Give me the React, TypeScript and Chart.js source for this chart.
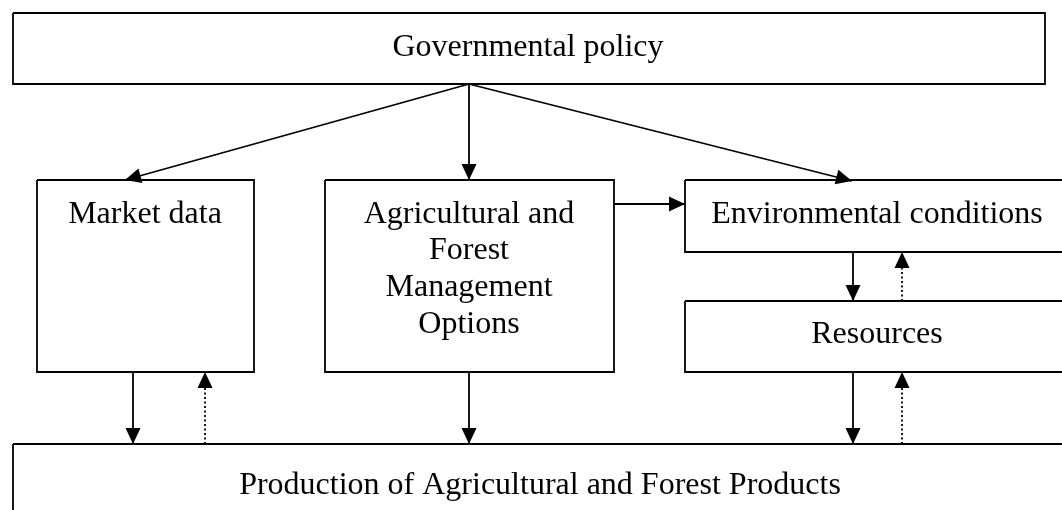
import React, { useEffect, useRef } from "react";
import { Chart, registerables } from "chart.js";

Chart.register(...registerables);

// Diagram coordinate space (units of the hidden linear scales)
const X_RANGE = [0, 1062];
const Y_RANGE = [0, 510];

// Boxes: [x1, y1, x2, y2]
const boxNames = ["gov", "market", "agri", "env", "res", "prod"];
const boxRects: number[][] = [
  [13, 13, 1045, 84],
  [37, 180, 254, 372],
  [325, 180, 614, 372],
  [685, 180, 1070, 252],
  [685, 301, 1070, 372],
  [13, 444, 1070, 530],
];

// Text lines: [text, centerX, baselineY]
const labelTexts = [
  "Governmental policy",
  "Market data",
  "Agricultural and",
  "Forest",
  "Management",
  "Options",
  "Environmental conditions",
  "Resources",
  "Production of Agricultural and Forest Products",
];
const labelX = [528, 145, 469, 469, 469, 469, 877, 877, 540];
const labelY = [56, 223, 223, 259, 296, 333, 223, 343, 494];

// Arrows: [fromX, fromY, toX, toY], solid or dotted
const arrowLines: number[][] = [
  [469, 84, 125, 180],
  [469, 84, 469, 180],
  [469, 84, 852, 181],
  [614, 204, 685, 204],
  [133, 372, 133, 444],
  [205, 444, 205, 372],
  [469, 372, 469, 444],
  [853, 252, 853, 301],
  [902, 301, 902, 252],
  [853, 372, 853, 444],
  [902, 444, 902, 372],
];
const arrowDotted = [false, false, false, false, false, true, false, false, true, false, true];

const FONT = '32px "Liberation Serif", "Times New Roman", serif';

const diagramPlugin = {
  id: "diagramPlugin",
  afterDatasetsDraw(chart: any) {
    const { ctx, scales } = chart;
    const sx = (v: number) => scales.x.getPixelForValue(v);
    const sy = (v: number) => scales.y.getPixelForValue(v);
    ctx.save();
    // arrowheads
    ctx.fillStyle = "#000";
    arrowLines.forEach((a) => {
      const x1 = sx(a[0]), y1 = sy(a[1]), x2 = sx(a[2]), y2 = sy(a[3]);
      const ang = Math.atan2(y2 - y1, x2 - x1);
      const len = 16, half = 7.5;
      const bx = x2 - len * Math.cos(ang), by = y2 - len * Math.sin(ang);
      ctx.beginPath();
      ctx.moveTo(x2, y2);
      ctx.lineTo(bx + half * Math.sin(ang), by - half * Math.cos(ang));
      ctx.lineTo(bx - half * Math.sin(ang), by + half * Math.cos(ang));
      ctx.closePath();
      ctx.fill();
    });
    // text
    ctx.font = FONT;
    ctx.textAlign = "center";
    ctx.textBaseline = "alphabetic";
    labelTexts.forEach((t, i) => {
      ctx.fillText(t, sx(labelX[i]), sy(labelY[i]));
    });
    ctx.restore();
  },
};

export default function App() {
  const ref = useRef<HTMLCanvasElement | null>(null);
  useEffect(() => {
    document.body.style.margin = "0";
    const canvas = ref.current;
    if (!canvas) return;
    const datasets: any[] = [];
    boxRects.forEach((r, i) => {
      datasets.push({
        label: boxNames[i],
        data: [
          { x: r[0], y: r[1] },
          { x: r[2], y: r[1] },
          { x: r[2], y: r[3] },
          { x: r[0], y: r[3] },
          { x: r[0], y: r[1] },
        ],
        showLine: true,
        borderColor: "#000",
        borderWidth: 1.8,
        pointRadius: 0,
        fill: false,
        tension: 0,
        clip: false,
        borderJoinStyle: "miter",
      });
    });
    arrowLines.forEach((a, i) => {
      datasets.push({
        label: "arrow" + i,
        data: [
          { x: a[0], y: a[1] },
          { x: a[2], y: a[3] },
        ],
        showLine: true,
        borderColor: "#000",
        borderWidth: 1.8,
        borderDash: arrowDotted[i] ? [2, 2.5] : [],
        pointRadius: 0,
        fill: false,
        clip: false,
      });
    });
    const chart = new Chart(canvas, {
      type: "scatter",
      data: { datasets },
      options: {
        animation: false,
        responsive: false,
        maintainAspectRatio: false,
        layout: { padding: 0 },
        events: [],
        plugins: { legend: { display: false }, tooltip: { enabled: false } },
        scales: {
          x: { type: "linear", min: X_RANGE[0], max: X_RANGE[1], display: false },
          y: { type: "linear", min: Y_RANGE[0], max: Y_RANGE[1], reverse: true, display: false },
        },
      },
      plugins: [diagramPlugin],
    });
    return () => chart.destroy();
  }, []);
  return (
    <div style={{ width: 1062, height: 510, background: "#fff" }}>
      <canvas ref={ref} width={1062} height={510} style={{ display: "block" }} />
    </div>
  );
}
